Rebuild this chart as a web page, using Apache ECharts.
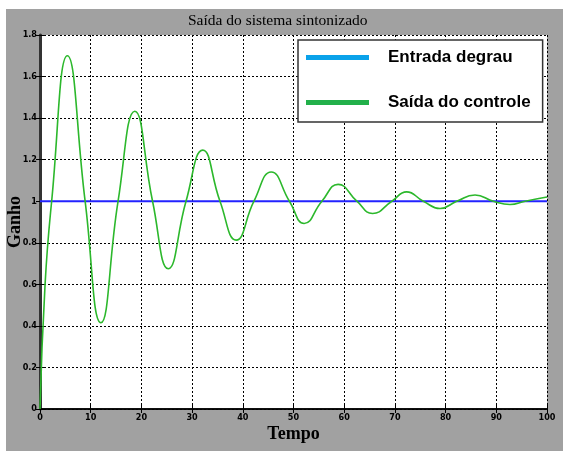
<!DOCTYPE html>
<html>
<head>
<meta charset="utf-8">
<script src="https://cdn.jsdelivr.net/npm/echarts@6/dist/echarts.min.js"></script>
<style>
  html, body { margin: 0; padding: 0; background: #ffffff; }
  #chart { width: 563px; height: 451px; }
</style>
</head>
<body>
<div id="chart"></div>
<script>
// Step input and the tuned closed-loop response (time, gain):
// start, then each peak / crossing of 1 / trough of the oscillation
const seriesNames = ['Entrada degrau', 'Saída do controle'];
const stepInput = [[0, 1], [100, 1]];
const controlOutput = [
  [0, 0], [1.0, 0.6], [2.3, 1.0],
  [5.4, 1.70], [8.9, 1.0], [12.0, 0.415], [15.4, 1.0],
  [18.7, 1.433], [22.2, 1.0], [25.3, 0.675], [28.8, 1.0],
  [32.1, 1.246], [35.5, 1.0], [38.7, 0.813], [42.2, 1.0],
  [45.6, 1.141], [49.2, 1.0], [52.1, 0.893], [55.6, 1.0],
  [58.8, 1.081], [62.5, 1.0], [65.6, 0.941], [69.4, 1.0],
  [72.3, 1.045], [75.6, 1.0], [78.9, 0.965], [82.2, 1.0],
  [85.8, 1.03], [89.4, 1.0], [92.7, 0.984], [95.7, 1.0], [100, 1.02]
];
const xTicks = { min: 0, max: 100, interval: 10 };
const yTicks = { min: 0, max: 1.8, interval: 0.2 };

const chart = echarts.init(document.getElementById('chart'), null, { renderer: 'canvas' });

const tickFont = {
  color: '#000', fontSize: 9, fontWeight: 'bold',
  fontFamily: '"Liberation Sans Narrow", "DejaVu Sans Condensed", sans-serif'
};
const gridDots = { show: true, lineStyle: { color: '#000', type: [2, 2], width: 1 } };
const nameFont = { fontFamily: '"Liberation Serif", serif', fontSize: 18, fontWeight: 'bold', color: '#000' };

chart.setOption({
  backgroundColor: '#ffffff',
  animation: false,
  graphic: [{
    type: 'rect', z: -10, silent: true,
    shape: { x: 6, y: 9, width: 557, height: 442 },
    style: { fill: '#a1a1a1' }
  }],
  title: {
    text: 'Saída do sistema sintonizado',
    left: 183, top: 8,
    textStyle: { fontFamily: '"Liberation Serif", serif', fontSize: 15.5, fontWeight: 'normal', color: '#000' }
  },
  legend: {
    orient: 'vertical',
    left: 298, top: 40,
    padding: [9, 12, 11, 8],
    itemGap: 28,
    itemWidth: 63, itemHeight: 5,
    icon: 'rect',
    backgroundColor: '#ffffff',
    borderColor: '#333', borderWidth: 1.5,
    textStyle: { fontFamily: '"Liberation Sans", Arial, sans-serif', fontSize: 17, fontWeight: 'bold', color: '#000', padding: [0, 0, 0, 14] },
    data: [
      { name: seriesNames[0], itemStyle: { color: '#0aa2ea' } },
      { name: seriesNames[1], itemStyle: { color: '#22b04a' } }
    ]
  },
  grid: {
    left: 40, right: 16, top: 35, bottom: 42,
    containLabel: false, outerBoundsMode: 'none',
    show: true, backgroundColor: '#ffffff', borderWidth: 0
  },
  xAxis: [{
    type: 'value', min: xTicks.min, max: xTicks.max, interval: xTicks.interval,
    name: 'Tempo', nameLocation: 'middle', nameGap: 16, nameMoveOverlap: false,
    nameTextStyle: nameFont,
    axisLine: { show: true, onZero: false, lineStyle: { color: '#000', width: 1.5 } },
    axisTick: { show: true, inside: true, length: 4, lineStyle: { color: '#000' } },
    axisLabel: Object.assign({ margin: 4 }, tickFont),
    splitLine: gridDots
  }, {
    type: 'value', position: 'top', min: xTicks.min, max: xTicks.max, interval: xTicks.interval,
    axisLine: { show: true, lineStyle: { color: '#000', width: 1.5 } },
    axisTick: { show: true, inside: true, length: 4, lineStyle: { color: '#000' } },
    axisLabel: { show: false }, splitLine: { show: false }
  }],
  yAxis: [{
    type: 'value', min: yTicks.min, max: yTicks.max, interval: yTicks.interval,
    name: 'Ganho', nameLocation: 'middle', nameGap: 16, nameRotate: 90, nameMoveOverlap: false,
    nameTextStyle: nameFont,
    axisLine: { show: true, onZero: false, lineStyle: { color: '#000', width: 1.5 } },
    axisTick: { show: true, inside: true, length: 4, lineStyle: { color: '#000' } },
    axisLabel: Object.assign({ margin: 3, formatter: v => String(+v.toFixed(1)) }, tickFont),
    splitLine: gridDots
  }, {
    type: 'value', position: 'right', min: yTicks.min, max: yTicks.max, interval: yTicks.interval,
    axisLine: { show: true, lineStyle: { color: '#333', width: 3 } },
    axisTick: { show: true, inside: true, length: 4, lineStyle: { color: '#000' } },
    axisLabel: { show: false }, splitLine: { show: false }
  }],
  series: [{
    name: seriesNames[0], type: 'line', data: stepInput,
    showSymbol: false, z: 3,
    lineStyle: { color: '#2323ff', width: 2 },
    itemStyle: { color: '#0aa2ea' }
  }, {
    name: seriesNames[1], type: 'line', data: controlOutput,
    smooth: 0.5, showSymbol: false, z: 4,
    lineStyle: { color: '#2cb82c', width: 1.6 },
    itemStyle: { color: '#22b04a' }
  }]
});
</script>
</body>
</html>
